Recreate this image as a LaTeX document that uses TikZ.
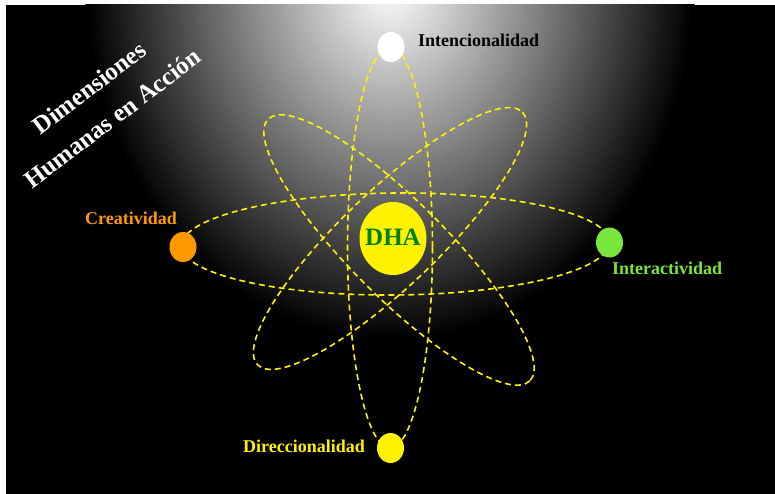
\documentclass[tikz,border=0pt]{standalone}
\usepackage{fontspec}
\setmainfont{Liberation Serif}
\usetikzlibrary{shapes.geometric}
\definecolor{orange1}{RGB}{255,153,0}
\definecolor{green1}{RGB}{120,230,60}
\definecolor{dhagreen}{RGB}{0,128,0}
\begin{document}
\begin{tikzpicture}[x=1pt,y=-1pt,
  orbit/.style={draw=yellow, line width=1.6pt, dash pattern=on 6pt off 4pt},
  dotshape/.style={ellipse, minimum width=27pt, minimum height=30pt, inner sep=0pt},
  lab/.style={font=\bfseries\fontsize{18}{20}\selectfont, inner sep=0pt, anchor=base west}]
\useasboundingbox (0,0) rectangle (775,494);
\fill[white] (0,0) rectangle (775,494);
\fill[black] (6,5) rectangle (775,494);
\begin{scope}
  \clip (6,5) rectangle (775,494);
  \foreach \i in {80,79,...,1} {
    \pgfmathsetmacro\g{100-1.25*\i}
    \pgfmathsetmacro\rx{3.8125*\i}
    \pgfmathsetmacro\ry{4.4375*\i}
    \fill[white!\g!black] (390,-12) ellipse [x radius=\rx, y radius=\ry];
  }
\end{scope}
% orbits
\draw[orbit, rotate around={0.5:(395.5,244)}] (395.5,244) ellipse [x radius=214, y radius=51];
\draw[orbit] (390,247.5) ellipse [x radius=42.5, y radius=200.5];
\draw[orbit, rotate around={-45:(399,250)}] (399,250) ellipse [x radius=185, y radius=48];
\draw[orbit, rotate around={43.6:(390,238.5)}] (390,238.5) ellipse [x radius=183, y radius=48];
% dots
\node[dotshape, fill=white] (int) at (391,47) {};
\node[dotshape, fill=orange1] (cre) at (183,247) {};
\node[dotshape, fill=green1] (inter) at (609.5,242.5) {};
\node[dotshape, fill=yellow] (dir) at (390.5,448) {};
\node[ellipse, fill=yellow, minimum width=67pt, minimum height=73pt, inner sep=0pt] (dha) at (393,238.5) {};
\node[font=\bfseries\fontsize{25}{28}\selectfont, text=dhagreen, inner sep=0pt] (dhatext) at (393,237.5) {DHA};
% labels
\node[lab, text=black] (tint) at (418,47) {Intencionalidad};
\node[lab, text=orange1] (tcre) at (85,225) {Creatividad};
\node[lab, text=green1] (tinter) at (612,274) {Interactividad};
\node[lab, text=yellow] (tdir) at (243,452) {Direccionalidad};
% title
\node[text=white, font=\bfseries\fontsize{25}{38}\selectfont, align=center, rotate=37] (title) at (101,103) {Dimensiones\\Humanas en Acción};
\end{tikzpicture}
\end{document}
